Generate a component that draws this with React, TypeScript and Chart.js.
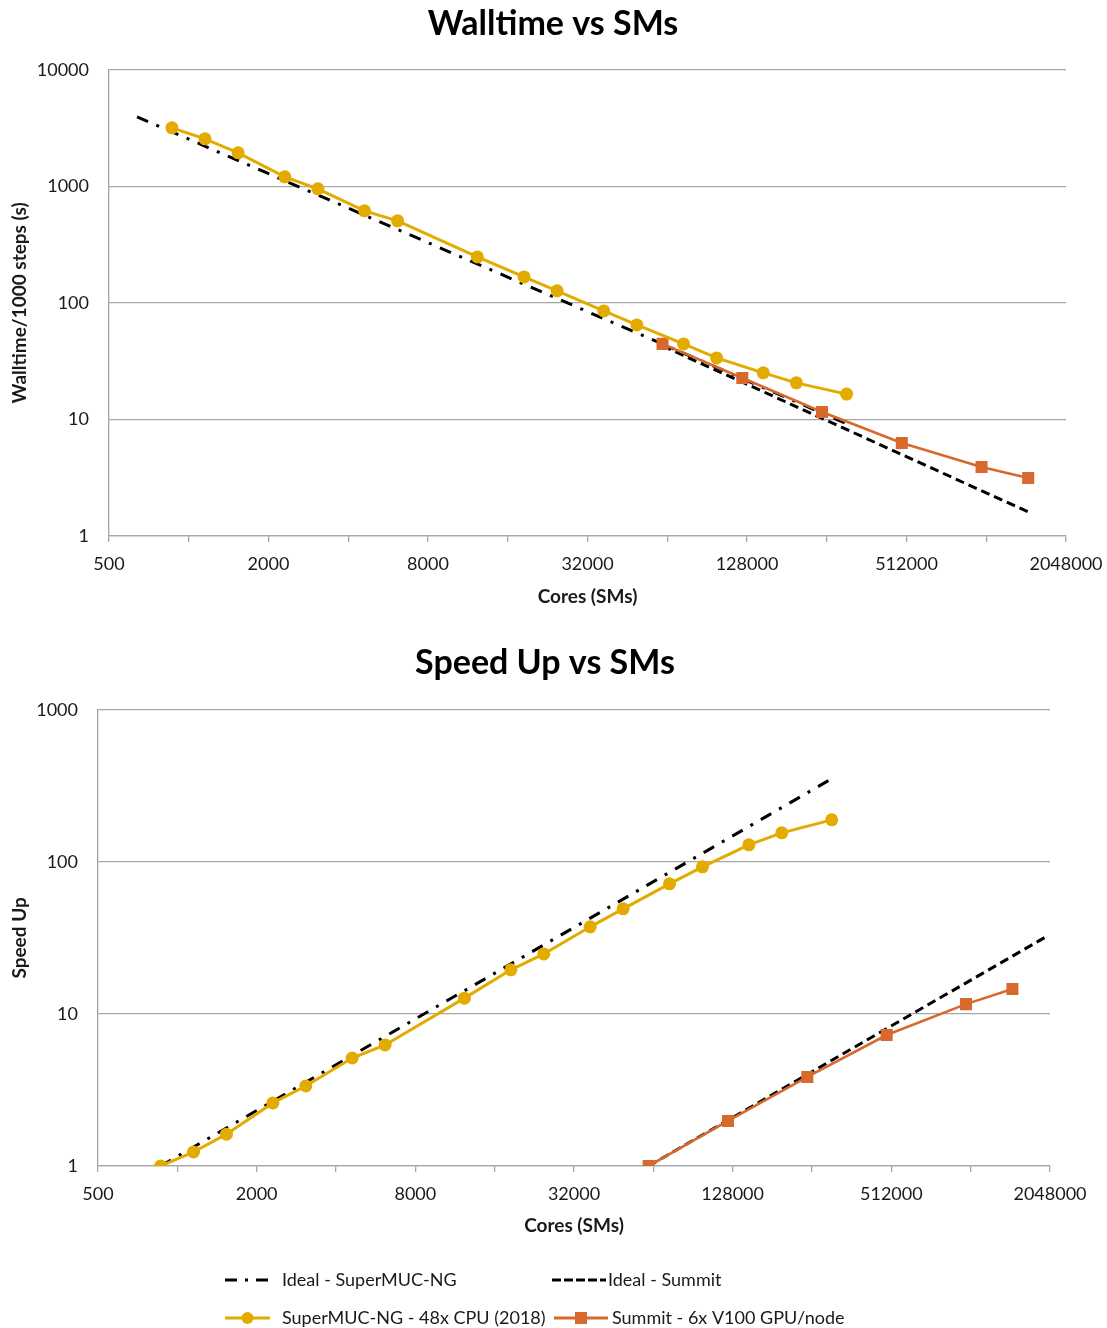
import React, { useEffect, useRef } from "react";
import { Chart, registerables } from "chart.js";

Chart.register(...registerables);

// ---------- data ----------
const xTicks = [500, 1000, 2000, 4000, 8000, 16000, 32000, 64000, 128000, 256000, 512000, 1024000, 2048000];
const xLabelTicks = [500, 2000, 8000, 32000, 128000, 512000, 2048000];
const walltimeTicks = [1, 10, 100, 1000, 10000];
const speedupTicks = [1, 10, 100, 1000];

const cpuCores = [864, 1152, 1536, 2304, 3072, 4608, 6144, 12288, 18432, 24576, 36864, 49152, 73728, 98304, 147456, 196608, 304128];
const cpuWalltime = [3178, 2558, 1940, 1207, 952, 616, 506, 248, 167, 127, 85.4, 64.7, 44.5, 33.7, 25.1, 20.6, 16.5];
const cpuSpeedup = [1, 1.236, 1.62, 2.6, 3.36, 5.13, 6.25, 12.7, 19.5, 24.8, 37.4, 49.1, 71.7, 92.7, 129.4, 155.2, 188.9];

const gpuCores = [61440, 122880, 245760, 491520, 983040, 1474560];
const gpuWalltime = [44.5, 22.7, 11.6, 6.29, 3.91, 3.15];
const gpuSpeedup = [1, 1.98, 3.85, 7.27, 11.6, 14.6];

const idealCpuWallCores = [638, 304128];
const idealCpuWall = [3952, 9.2];
const idealGpuWallCores = [61440, 1474560];
const idealGpuWall = [42.7, 1.61];
const idealCpuSpeedCores = [864, 304128];
const idealCpuSpeed = [1, 352];
const idealGpuSpeedCores = [61440, 1966080];
const idealGpuSpeed = [1, 32];

const seriesLabels = ["Ideal - SuperMUC-NG", "Ideal - Summit", "SuperMUC-NG - 48x CPU (2018)", "Summit - 6x V100 GPU/node"];
const chartTitles = ["Walltime vs SMs", "Speed Up vs SMs"];
const xTitle = "Cores (SMs)";
const yTitles = ["Walltime/1000 steps (s)", "Speed Up"];

// ---------- styles ----------
const FONT = "Lato, 'Open Sans', sans-serif";
const GOLD = "#E3AA00";
const ORANGE = "#D6692B";
const GRID = "#A6A6A6";
const TEXT = "#1a1a1a";
const DASHDOT = [12, 9, 3, 9];
const DASH = [9, 5];
const TICK_SIZE = 18;
const AXIS_TITLE_SIZE = 19;
const TITLE_SIZE = 34;
const LEGEND_SIZE = 18;

const pts = (xs: number[], ys: number[]) => xs.map((x, i) => ({ x, y: ys[i] }));

function buildDatasets(ideal1: any[], ideal2: any[], s1: any[], s2: any[]) {
  return [
    {
      label: seriesLabels[2], data: s1, borderColor: GOLD, backgroundColor: GOLD,
      borderWidth: 3, pointStyle: "circle", pointRadius: 6.5, pointBorderWidth: 0,
      pointBackgroundColor: GOLD, tension: 0, order: 1,
    },
    {
      label: seriesLabels[3], data: s2, borderColor: ORANGE, backgroundColor: ORANGE,
      borderWidth: 2.6, pointStyle: "rect", pointRadius: 8.5, pointBorderWidth: 0,
      pointBackgroundColor: ORANGE, tension: 0, order: 2,
    },
    {
      label: seriesLabels[0], data: ideal1, borderColor: "#000", borderWidth: 3,
      borderDash: DASHDOT, pointRadius: 0, tension: 0, order: 3,
    },
    {
      label: seriesLabels[1], data: ideal2, borderColor: "#000", borderWidth: 3,
      borderDash: DASH, pointRadius: 0, tension: 0, order: 4,
    },
  ];
}

// centre the chart title horizontally on a given x
const titleCenterPlugin = (cx: number) => ({
  id: "titleCenter",
  afterLayout(chart: any) {
    const t = chart.titleBlock;
    if (t) {
      const half = Math.min(cx, chart.width - cx);
      t.left = cx - half;
      t.right = cx + half;
      t.width = 2 * half;
    }
  },
});

function buildConfig(opts: any) {
  const { title, yTitle, yMax, yTicks, datasets, titlePad, yWidth, xHeight, padBottom, padRight, plugins } = opts;
  return {
    type: "line",
    data: { datasets },
    plugins: plugins || [],
    options: {
      animation: false,
      responsive: false,
      maintainAspectRatio: false,
      layout: { padding: { top: 0, left: 0, right: padRight, bottom: padBottom } },
      plugins: {
        legend: { display: false },
        tooltip: { enabled: false },
        title: {
          display: true, text: title, color: "#000",
          font: { family: FONT, size: TITLE_SIZE, weight: "bold", lineHeight: 1.2 },
          padding: titlePad,
        },
      },
      scales: {
        x: {
          type: "logarithmic", min: 500, max: 2048000,
          afterBuildTicks: (s: any) => { s.ticks = xTicks.map((v) => ({ value: v })); },
          afterFit: (s: any) => { s.height = xHeight; s.paddingLeft = 0; s.paddingRight = 0; },
          ticks: {
            autoSkip: false, maxRotation: 0, minRotation: 0, padding: 11, color: TEXT,
            font: { family: FONT, size: TICK_SIZE },
            callback: (v: any) => (xLabelTicks.includes(Number(v)) ? String(v) : ""),
          },
          grid: { drawOnChartArea: false, drawTicks: true, tickLength: 6, tickColor: GRID, lineWidth: 1.3, color: GRID },
          border: { display: true, color: GRID, width: 1.3 },
          title: {
            display: true, text: xTitle, color: TEXT,
            font: { family: FONT, size: AXIS_TITLE_SIZE, weight: "bold", lineHeight: 1.2 },
            padding: { top: 0, bottom: opts.xTitlePadBottom },
          },
        },
        y: {
          type: "logarithmic", min: 1, max: yMax,
          afterBuildTicks: (s: any) => { s.ticks = yTicks.map((v: number) => ({ value: v })); },
          afterFit: (s: any) => { s.width = yWidth; s.paddingTop = 0; s.paddingBottom = 0; },
          ticks: {
            autoSkip: false, padding: 20, color: TEXT,
            font: { family: FONT, size: TICK_SIZE },
            callback: (v: any) => String(v),
          },
          grid: { drawTicks: false, color: GRID, lineWidth: 1.3 },
          border: { display: true, color: GRID, width: 1.3 },
          title: {
            display: true, text: yTitle, color: TEXT,
            font: { family: FONT, size: AXIS_TITLE_SIZE, weight: "bold", lineHeight: 1.2 },
            padding: { top: opts.yTitlePadTop, bottom: 0 },
          },
        },
      },
    },
  };
}

const legendPlugin = {
  id: "customLegend",
  afterDraw(chart: any) {
    const ctx = chart.ctx;
    const items = [
      { x0: 225, x1: 270, y: 650, tx: 282, label: seriesLabels[0], kind: "dashdot" },
      { x0: 552, x1: 606, y: 650, tx: 608, label: seriesLabels[1], kind: "dash" },
      { x0: 225, x1: 270, y: 688, tx: 282, label: seriesLabels[2], kind: "cpu" },
      { x0: 554, x1: 608, y: 688, tx: 612, label: seriesLabels[3], kind: "gpu" },
    ];
    ctx.save();
    for (const it of items) {
      ctx.beginPath();
      if (it.kind === "dashdot") {
        ctx.setLineDash([12, 8, 3, 8]);
        ctx.strokeStyle = "#000"; ctx.lineWidth = 3;
      } else if (it.kind === "dash") {
        ctx.setLineDash([9, 3]);
        ctx.strokeStyle = "#000"; ctx.lineWidth = 3;
      } else {
        ctx.setLineDash([]);
        ctx.strokeStyle = it.kind === "cpu" ? GOLD : ORANGE; ctx.lineWidth = 3;
      }
      ctx.moveTo(it.x0, it.y); ctx.lineTo(it.x1, it.y); ctx.stroke();
      ctx.setLineDash([]);
      const cx = (it.x0 + it.x1) / 2;
      if (it.kind === "cpu") {
        ctx.fillStyle = GOLD; ctx.beginPath(); ctx.arc(cx, it.y, 6, 0, Math.PI * 2); ctx.fill();
      } else if (it.kind === "gpu") {
        ctx.fillStyle = ORANGE; ctx.fillRect(cx - 6, it.y - 6, 12, 12);
      }
      ctx.fillStyle = TEXT;
      ctx.font = `${LEGEND_SIZE}px ${FONT}`;
      ctx.textBaseline = "middle";
      ctx.textAlign = "left";
      ctx.fillText(it.label, it.tx, it.y);
    }
    ctx.restore();
  },
};

export default function App() {
  const ref1 = useRef<HTMLCanvasElement>(null);
  const ref2 = useRef<HTMLCanvasElement>(null);

  useEffect(() => {
    const c1 = new Chart(ref1.current as any, buildConfig({
      title: chartTitles[0], yTitle: yTitles[0], yMax: 10000, yTicks: walltimeTicks,
      datasets: buildDatasets(
        pts(idealCpuWallCores, idealCpuWall), pts(idealGpuWallCores, idealGpuWall),
        pts(cpuCores, cpuWalltime), pts(gpuCores, gpuWalltime)),
      titlePad: { top: 4, bottom: 25 }, yWidth: 109, xHeight: 625 - 536,
      padBottom: 0, padRight: 41, xTitlePadBottom: 17, yTitlePadTop: 8,
      plugins: [titleCenterPlugin(553)],
    }) as any);
    const c2 = new Chart(ref2.current as any, buildConfig({
      title: chartTitles[1], yTitle: yTitles[1], yMax: 1000, yTicks: speedupTicks,
      datasets: buildDatasets(
        pts(idealCpuSpeedCores, idealCpuSpeed), pts(idealGpuSpeedCores, idealGpuSpeed),
        pts(cpuCores, cpuSpeedup), pts(gpuCores, gpuSpeedup)),
      titlePad: { top: 13, bottom: 26 }, yWidth: 98, xHeight: 618 - 536,
      padBottom: 80, padRight: 57, xTitlePadBottom: 11, yTitlePadTop: 8,
      plugins: [legendPlugin, titleCenterPlugin(545)],
    }) as any);
    return () => { c1.destroy(); c2.destroy(); };
  }, []);

  return (
    <div style={{ position: "absolute", left: 0, top: 0, width: 1107, height: 1328, background: "#fff" }}>
      <canvas ref={ref1} width={1107} height={625} style={{ position: "absolute", left: 0, top: 0 }} />
      <canvas ref={ref2} width={1107} height={698} style={{ position: "absolute", left: 0, top: 630 }} />
    </div>
  );
}
